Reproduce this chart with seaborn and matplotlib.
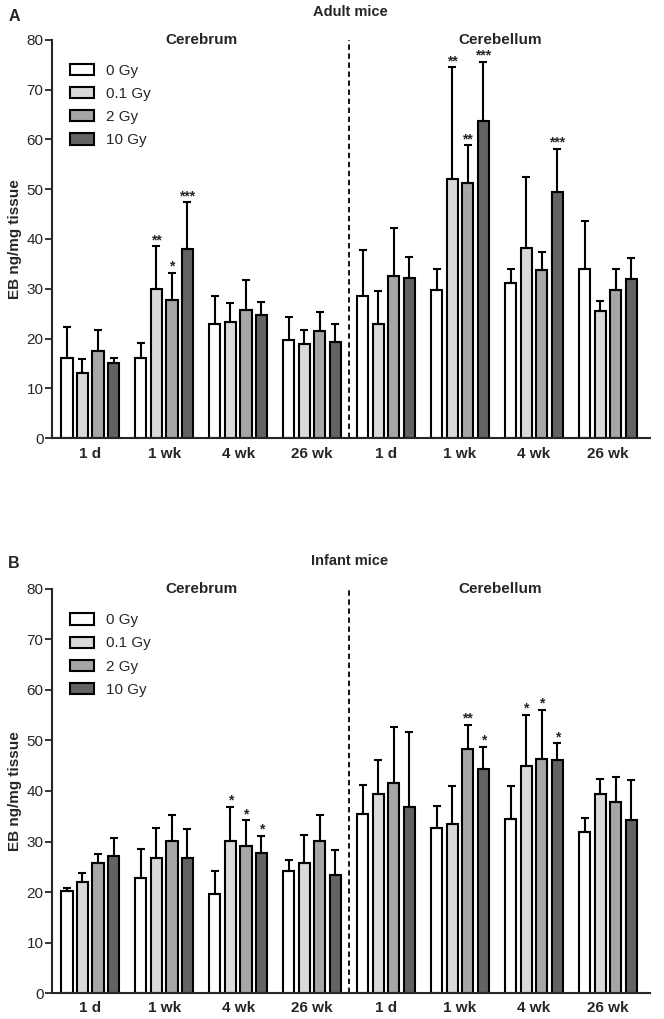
import numpy as np
import pandas as pd
import matplotlib
matplotlib.use("Agg")
import matplotlib.pyplot as plt
import seaborn as sns

# ==========================================
# data
# ==========================================
doses = ["0 Gy", "0.1 Gy", "2 Gy", "10 Gy"]
times = ["1 d", "1 wk", "4 wk", "26 wk"]
regions = ["Cerebrum", "Cerebellum"]

# adult mice: mean per dose, rows = time points
adult_cerebrum = [[16.1, 13.0, 17.5, 15.1],
                  [16.1, 30.0, 27.7, 38.0],
                  [22.9, 23.3, 25.8, 24.7],
                  [19.8, 18.9, 21.5, 19.3]]
adult_cerebrum_top = [[22.3, 15.8, 21.7, 16.1],
                      [19.2, 38.5, 33.2, 47.4],
                      [28.6, 27.1, 31.8, 27.3],
                      [24.3, 21.7, 25.3, 23.0]]
adult_cerebellum = [[28.6, 22.9, 32.6, 32.1],
                    [29.7, 52.1, 51.3, 63.7],
                    [31.2, 38.1, 33.7, 49.4],
                    [34.0, 25.6, 29.7, 32.0]]
adult_cerebellum_top = [[37.7, 29.6, 42.3, 36.4],
                        [34.0, 74.5, 58.8, 75.6],
                        [33.9, 52.4, 37.4, 58.1],
                        [43.7, 27.5, 33.9, 36.2]]
adult_stars = {("Cerebrum", "1 wk", "0.1 Gy"): "**",
               ("Cerebrum", "1 wk", "2 Gy"): "*",
               ("Cerebrum", "1 wk", "10 Gy"): "***",
               ("Cerebellum", "1 wk", "0.1 Gy"): "**",
               ("Cerebellum", "1 wk", "2 Gy"): "**",
               ("Cerebellum", "1 wk", "10 Gy"): "***",
               ("Cerebellum", "4 wk", "10 Gy"): "***"}

# infant mice
infant_cerebrum = [[20.2, 22.0, 25.7, 27.1],
                   [22.8, 26.7, 30.1, 26.7],
                   [19.7, 30.1, 29.1, 27.8],
                   [24.1, 25.8, 30.1, 23.4]]
infant_cerebrum_top = [[20.7, 23.8, 27.6, 30.6],
                       [28.5, 32.7, 35.3, 32.4],
                       [24.2, 36.9, 34.2, 31.1],
                       [26.3, 31.2, 35.3, 28.4]]
infant_cerebellum = [[35.4, 39.4, 41.5, 36.9],
                     [32.7, 33.4, 48.4, 44.4],
                     [34.5, 45.0, 46.4, 46.1],
                     [31.9, 39.5, 37.9, 34.2]]
infant_cerebellum_top = [[41.1, 46.1, 52.7, 51.6],
                         [37.1, 40.9, 53.1, 48.8],
                         [40.9, 55.1, 56.1, 49.5],
                         [34.6, 42.3, 42.8, 42.1]]
infant_stars = {("Cerebrum", "4 wk", "0.1 Gy"): "*",
                ("Cerebrum", "4 wk", "2 Gy"): "*",
                ("Cerebrum", "4 wk", "10 Gy"): "*",
                ("Cerebellum", "1 wk", "2 Gy"): "**",
                ("Cerebellum", "1 wk", "10 Gy"): "*",
                ("Cerebellum", "4 wk", "0.1 Gy"): "*",
                ("Cerebellum", "4 wk", "2 Gy"): "*",
                ("Cerebellum", "4 wk", "10 Gy"): "*"}

colors = ["#ffffff", "#d9d9d9", "#a6a6a6", "#636363"]


def make_frame(cerebrum, cerebrum_top, cerebellum, cerebellum_top):
    rows = []
    for region, mean, top in [("Cerebrum", cerebrum, cerebrum_top),
                              ("Cerebellum", cerebellum, cerebellum_top)]:
        for i, t in enumerate(times):
            for j, d in enumerate(doses):
                rows.append({"region": region, "time": t, "key": f"{region} {t}",
                             "dose": d, "value": mean[i][j], "top": top[i][j]})
    return pd.DataFrame(rows)


def draw_panel(ax, df, stars):
    order = [f"{r} {t}" for r in regions for t in times]
    sns.barplot(data=df, x="key", y="value", hue="dose", order=order,
                hue_order=doses, palette=colors, errorbar=None,
                width=0.84, gap=0.28, edgecolor="black", linewidth=1.5,
                saturation=1, ax=ax)

    # one-sided (upper) error bars and significance stars
    for dose, cont in zip(doses, ax.containers):
        for key, bar in zip(order, cont):
            row = df[(df["key"] == key) & (df["dose"] == dose)].iloc[0]
            xc = bar.get_x() + bar.get_width() / 2
            ax.errorbar(xc, row["value"], yerr=[[0], [row["top"] - row["value"]]],
                        fmt="none", ecolor="black", elinewidth=1.5,
                        capsize=3, capthick=1.5, zorder=1)
            s = stars.get((row["region"], row["time"], dose))
            if s:
                ax.text(xc, row["top"] + 0.4, s, ha="center", va="baseline",
                        fontsize=10, fontweight="bold")

    ax.axvline(3.5, ymin=0, ymax=1, color="black", linestyle=(0, (3, 2)), lw=1.3)
    ax.set_ylim(0, 80)
    ax.set_xlim(-0.52, 7.57)
    ax.set_yticks(range(0, 81, 10))
    ax.set_xticks(range(8))
    ax.set_xticklabels(times * 2, fontsize=11, fontweight="bold")
    ax.tick_params(axis="x", length=0, pad=6)
    ax.tick_params(axis="y", length=5, width=1.3, labelsize=11, pad=1)
    ax.set_xlabel("")
    ax.set_ylabel("EB ng/mg tissue", fontsize=11, fontweight="bold", labelpad=3)
    for sp in ["top", "right"]:
        ax.spines[sp].set_visible(False)
    for sp in ["left", "bottom"]:
        ax.spines[sp].set_linewidth(1.5)

    ax.text(1.5, 80, "Cerebrum", ha="center", va="center", fontsize=11,
            fontweight="bold", clip_on=False)
    ax.text(5.55, 80, "Cerebellum", ha="center", va="center", fontsize=11,
            fontweight="bold", clip_on=False)
    ax.legend(loc="upper left", bbox_to_anchor=(0.02, 0.955), frameon=False,
              fontsize=11, handlelength=1.55, handleheight=0.75,
              handletextpad=0.8, labelspacing=0.6, borderaxespad=0)
    for h in ax.get_legend().legend_handles:
        h.set_linewidth(1.5)
    return ax


sns.set_style("ticks")
plt.rcParams["font.family"] = ["Liberation Sans", "DejaVu Sans"]

fig = plt.figure(figsize=(6.64, 10.19), dpi=100)
ax_a = fig.add_axes([0.078, 0.570, 0.901, 0.391])
ax_b = fig.add_axes([0.078, 0.0255, 0.901, 0.3965])

adult_df = make_frame(adult_cerebrum, adult_cerebrum_top,
                      adult_cerebellum, adult_cerebellum_top)
infant_df = make_frame(infant_cerebrum, infant_cerebrum_top,
                       infant_cerebellum, infant_cerebellum_top)

draw_panel(ax_a, adult_df, adult_stars)
draw_panel(ax_b, infant_df, infant_stars)

fig.text(0.527, 0.988, "Adult mice", ha="center", va="center",
         fontsize=10.5, fontweight="bold")
fig.text(0.021, 0.984, "A", ha="center", va="center", fontsize=11.5, fontweight="bold")
fig.text(0.527, 0.449, "Infant mice", ha="center", va="center",
         fontsize=10.5, fontweight="bold")
fig.text(0.021, 0.447, "B", ha="center", va="center", fontsize=11.5, fontweight="bold")

fig.savefig("out.png", dpi=100)
